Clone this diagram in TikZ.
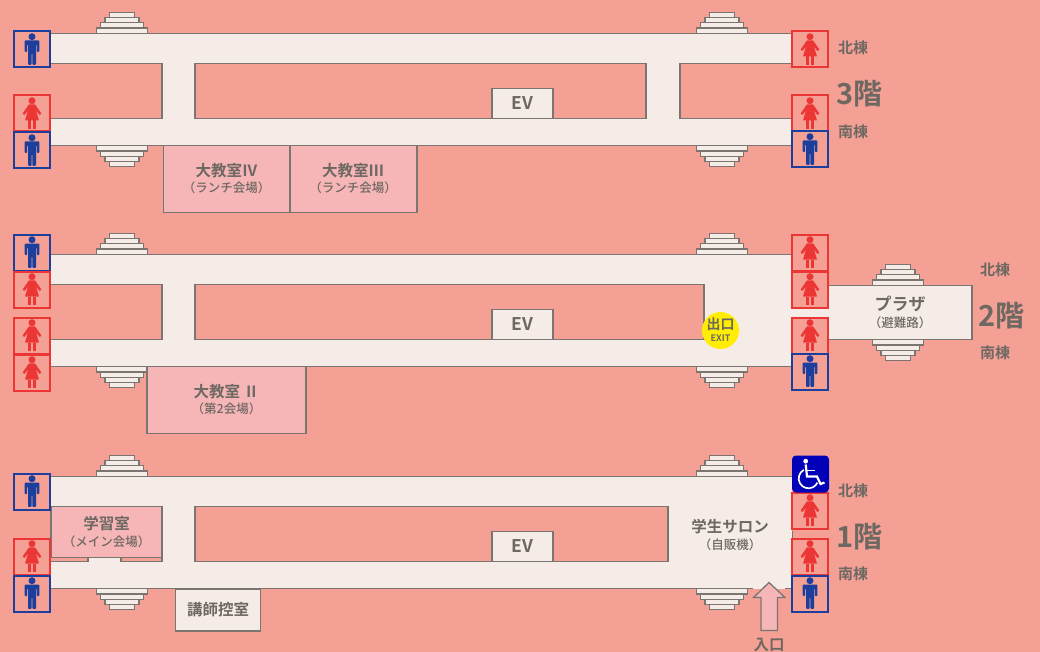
\documentclass[tikz,border=0pt]{standalone}
\usepackage{fontspec}
\setmainfont{Noto Sans CJK JP Medium}
\newfontfamily\heavyjp{Noto Sans CJK JP Bold}
\definecolor{bg}{HTML}{F4A095}
\definecolor{floorc}{HTML}{F6ECE7}
\definecolor{roomc}{HTML}{F6B6B8}
\definecolor{wallc}{HTML}{7A7570}
\definecolor{txtc}{HTML}{6E6862}
\definecolor{redc}{HTML}{EC3636}
\definecolor{bluec}{HTML}{1C3F9E}
\tikzset{
  x=1pt,y=-1pt,
  wall/.style={draw=wallc,line width=1.6pt},
  floorbox/.style={wall,fill=floorc},
  room/.style={draw=wallc,line width=1.3pt,fill=roomc},
  lbl/.style={text=txtc,inner sep=0pt,align=center,yshift=-0.5pt,font=\heavyjp\fontsize{15.5}{18}\selectfont},
  sub/.style={text=txtc,inner sep=0pt,align=center,yshift=-0.5pt,font=\fontsize{12.5}{15}\selectfont},
  wing/.style={text=txtc,inner sep=0pt,yshift=-0.5pt,font=\heavyjp\fontsize{15}{17}\selectfont},
  storey/.style={text=txtc,inner sep=0pt,yshift=-0.5pt,font=\heavyjp\fontsize{29}{32}\selectfont},
  evlbl/.style={text=txtc,inner sep=0pt,font=\heavyjp\fontsize{17.5}{20}\selectfont},
  stepc/.style={draw=wallc,line width=1.3pt,fill=floorc},
}
\newcommand{\stairsup}[2]{%
  \draw[stepc] (#1-25.5,#2-5.5) rectangle (#1+25.5,#2);
  \draw[stepc] (#1-21.5,#2-11) rectangle (#1+21.5,#2-5.5);
  \draw[stepc] (#1-17,#2-16) rectangle (#1+17,#2-11);
  \draw[stepc] (#1-12.5,#2-21) rectangle (#1+12.5,#2-16);
}
\newcommand{\stairsdown}[2]{%
  \draw[stepc] (#1-25.5,#2+5.5) rectangle (#1+25.5,#2);
  \draw[stepc] (#1-21.5,#2+11) rectangle (#1+21.5,#2+5.5);
  \draw[stepc] (#1-17,#2+16) rectangle (#1+17,#2+11);
  \draw[stepc] (#1-12.5,#2+21) rectangle (#1+12.5,#2+16);
}
\newcommand{\manicon}[2]{%
  \begin{scope}[shift={(#1,#2)}]
    \draw[bluec,line width=2pt,fill=bg] (0,0) rectangle (36,36);
    \fill[bluec] (18,5.2) circle (3.5);
    \fill[bluec,rounded corners=0.8pt] (10.7,9) -- (25.3,9) -- (25.3,20.5) -- (22.8,20.5) -- (22.8,13) -- (22,13) -- (22,33.3) -- (18.4,33.3) -- (18.4,22) -- (17.6,22) -- (17.6,33.3) -- (14,33.3) -- (14,13) -- (13.2,13) -- (13.2,20.5) -- (10.7,20.5) -- cycle;
  \end{scope}}
\newcommand{\womanicon}[2]{%
  \begin{scope}[shift={(#1,#2)}]
    \draw[redc,line width=2pt,fill=bg] (0,0) rectangle (36,36);
    \fill[redc] (18,5.2) circle (3.5);
    \fill[redc,rounded corners=0.5pt] (15,8.8) -- (21,8.8) -- (27.4,18) -- (25.6,19.6) -- (22,15) -- (25,25) -- (11,25) -- (14,15) -- (10.4,19.6) -- (8.6,18) -- cycle;
    \fill[redc] (14.4,25) rectangle (16.8,33.3);
    \fill[redc] (19.2,25) rectangle (21.6,33.3);
  \end{scope}}
\begin{document}
\begin{tikzpicture}
\useasboundingbox (0,0) rectangle (1040,652);
\fill[bg] (0,0) rectangle (1040,652);
\begin{scope}[yshift=-0.5pt]
% ---------- 3F
\stairsup{122}{33}\stairsup{722}{33}
\stairsdown{122}{145}\stairsdown{722}{145}
\fill[floorc] (50,33) rectangle (792,145);
\draw[wall] (50,33) -- (792,33) (50,145) -- (792,145);
\draw[wall,fill=bg] (40,63) -- (162,63) -- (162,118) -- (40,118);
\draw[wall,fill=bg] (195,63) rectangle (646,118);
\draw[wall,fill=bg] (800,63) -- (680,63) -- (680,118) -- (800,118);
\fill[bg] (792,64) rectangle (800,117);
\node[floorbox,minimum width=61pt,minimum height=30pt,inner sep=0pt,evlbl] (ev3) at (522.5,103) {EV};
\draw[room] (163.5,145) rectangle (290,212);
\draw[room] (290,145) rectangle (417,212);
\node[lbl] (r4a) at (226.5,170) {大教室Ⅳ};
\node[sub] (r4b) at (226.5,187) {（ランチ会場）};
\node[lbl] (r3a) at (353,170) {大教室Ⅲ};
\node[sub] (r3b) at (353,187) {（ランチ会場）};
\manicon{14}{31}\womanicon{14}{95}\manicon{14}{132}
\womanicon{792}{31}\womanicon{792}{95}\manicon{792}{131}
\node[wing] (n3) at (853,47) {北棟};
\node[storey] (f3) at (859.5,93) {3階};
\node[wing] (s3) at (853,131) {南棟};

% ---------- 2F
\stairsup{122}{254}\stairsup{722}{254}
\stairsdown{122}{366}\stairsdown{722}{366}
\stairsup{898}{285}\stairsdown{898}{339}
\fill[floorc] (50,254) rectangle (792,366);
\fill[floorc] (792,285) rectangle (972,339);
\draw[wall] (50,254) -- (792,254) (50,366) -- (792,366);
\draw[wall] (820,285) -- (972,285) -- (972,339) -- (820,339);
\draw[wall,fill=bg] (40,284) -- (162,284) -- (162,339) -- (40,339);
\draw[wall,fill=bg] (195,284) rectangle (704,339);
\node[floorbox,minimum width=61pt,minimum height=30pt,inner sep=0pt,evlbl] (ev2) at (522.5,324) {EV};
\draw[room] (147,366) rectangle (306,433);
\node[lbl] (r2a) at (226.5,391) {大教室 Ⅱ};
\node[sub] (r2b) at (226.5,408) {（第2会場）};
\fill[yellow!96!orange] (720.5,330) circle (18.5);
\node[text=txtc,inner sep=0pt,font=\heavyjp\fontsize{14}{15}\selectfont] (exa) at (720.5,324) {出口};
\node[text=txtc,inner sep=0pt,font=\heavyjp\fontsize{9}{10}\selectfont] (exb) at (720.5,338) {EXIT};
\manicon{14}{234}\womanicon{14}{271}\womanicon{14}{317}\womanicon{14}{354}
\womanicon{792}{234}\womanicon{792}{271}\womanicon{792}{317}\manicon{792}{353}
\node[lbl,font=\heavyjp\fontsize{17}{20}\selectfont] (pl) at (900,303) {プラザ};
\node[sub] (plb) at (900,322) {（避難路）};
\node[wing] (n2) at (995,269) {北棟};
\node[storey] (f2) at (1001.5,315) {2階};
\node[wing] (s2) at (995,352) {南棟};

% ---------- 1F
\stairsup{122}{476}\stairsup{722}{476}
\stairsdown{122}{588}\stairsdown{722}{588}
\fill[floorc] (50,476) rectangle (792,588);
\draw[wall] (50,476) -- (792,476) (50,588) -- (753,588) (785,588) -- (792,588);
\draw[wall] (792.5,530) -- (792.5,538);
\fill[bg] (40,506) rectangle (162,561);
\draw[wall] (50,561) -- (88,561) (121,561) -- (162,561);
\fill[floorc] (88.5,557) rectangle (120.5,563);
\draw[room] (51,506) -- (162,506) -- (162,557) -- (51,557) -- cycle;
\draw[wall] (88,557) -- (88,561) (121,557) -- (121,561) (162,557) -- (162,561);
\node[lbl] (st1) at (106.5,523) {学習室};
\node[sub] (st2) at (106.5,541) {（メイン会場）};
\draw[wall,fill=bg] (195,506) rectangle (668,561);
\node[floorbox,minimum width=61pt,minimum height=30pt,inner sep=0pt,evlbl] (ev1) at (522.5,546) {EV};
\node[floorbox,minimum width=85pt,minimum height=42pt,inner sep=0pt,lbl] (kou) at (218,609) {講師控室};
\node[lbl] (sa1) at (730,526) {学生サロン};
\node[sub] (sa2) at (730,544) {（自販機）};
\draw[draw=wallc,line width=1.3pt,fill=roomc] (769,582) -- (785,597) -- (777.5,597) -- (777.5,630) -- (761,630) -- (761,597) -- (753.5,597) -- cycle;
\node[lbl] (in) at (769,644) {入口};
\manicon{14}{473}\womanicon{14}{538}\manicon{14}{575}
\womanicon{792}{492}\womanicon{792}{538}\manicon{792}{575}
\begin{scope}[shift={(792,455)}]
  \fill[blue!72!black,rounded corners=4pt] (0,0) rectangle (37,37);
  \fill[white] (13.7,5.7) circle (2.4);
  \draw[white,line width=2.2pt] (13.7,9) -- (15,21) -- (25,21) -- (28.5,28.5) -- (32.5,27);
  \draw[white,line width=1.6pt] (15,15) -- (23,15);
  \begin{scope}[y=1pt]
    \draw[white,line width=1.7pt] (16.5,-23) ++(118:9.8pt) arc[start angle=118,end angle=335,radius=9.8pt];
  \end{scope}
\end{scope}
\node[wing] (n1) at (853,490) {北棟};
\node[storey] (f1) at (859.5,536) {1階};
\node[wing] (s1) at (853,573) {南棟};
\end{scope}
\end{tikzpicture}
\end{document}
